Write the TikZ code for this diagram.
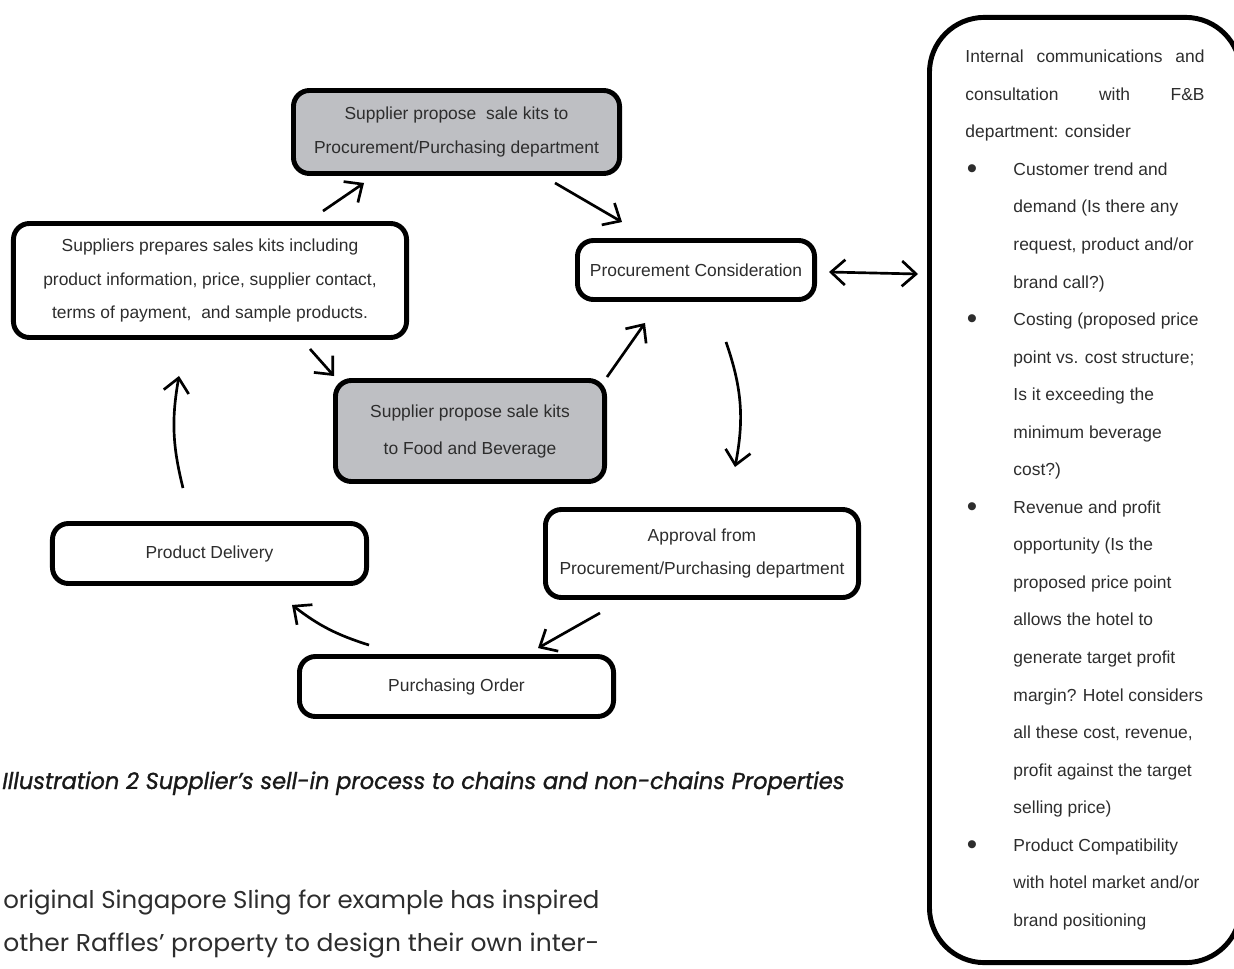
\documentclass[tikz,border=0pt]{standalone}
\usepackage{fontspec}
\setmainfont{Liberation Sans}
\newfontfamily\capfont{Poppins}
\newfontfamily\capbold[FakeBold=1.2]{Poppins}
\usepackage{graphicx}
\usetikzlibrary{arrows.meta}
\definecolor{kitgray}{RGB}{190,191,195}
\definecolor{inkgray}{RGB}{45,45,45}
% bullet line for the side panel
\newcommand{\noteitem}[1]{\par\noindent\hangindent=1.2cm\hangafter=1\makebox[1.2cm][l]{\hspace{1pt}\raisebox{-2.2pt}{\fontsize{21}{21}\selectfont\textbullet}}#1}

\begin{document}
\begin{tikzpicture}[x=0.025cm, y=-0.025cm]
\tikzstyle{box} = [rectangle, draw, line width=3.5pt, rounded corners=0.4cm, text=inkgray, align=center, inner sep=0pt, font=\fontsize{12.4}{23.8}\selectfont]
\tikzstyle{kitbox} = [box, fill=kitgray]
\tikzstyle{notebox} = [rectangle, draw, line width=3.5pt, rounded corners=1.375cm, text=inkgray, inner sep=0pt, minimum width=7.775cm, minimum height=23.625cm, text width=5.975cm, align=justify, font=\fontsize{12.4}{26.7}\selectfont]
\tikzstyle{arrow} = [line width=1.9pt, -{Straight Barb[length=10pt,width=18pt]}]
\tikzstyle{twoway} = [line width=1.9pt, {Straight Barb[length=10pt,width=18pt]}-{Straight Barb[length=10pt,width=18pt]}]

\useasboundingbox (0,0) rectangle (1234,968);

\node [kitbox, minimum width=8.15cm, minimum height=2.075cm] (propkit) at (456.5,132) {Supplier propose~ sale kits to\\Procurement/Purchasing department};
\node [box, minimum width=9.825cm, minimum height=2.85cm] (salekit) at (210,280.5) {Suppliers prepares sales kits including\\product information, price, supplier contact,\\terms of payment,~ and sample products.};
\node [box, minimum width=5.925cm, minimum height=1.475cm] (consider) at (696,270) {Procurement Consideration};
\node [kitbox, minimum width=6.725cm, minimum height=2.525cm, font=\fontsize{12.4}{26.3}\selectfont] (fbkit) at (470,431) {Supplier propose sale kits\\to Food and Beverage};
\node [box, minimum width=7.85cm, minimum height=1.5cm] (delivery) at (209.5,553.5) {Product Delivery};
\node [box, minimum width=7.825cm, minimum height=2.2cm] (approval) at (702,553.5) {Approval from\\Procurement/Purchasing department};
\node [box, minimum width=7.85cm, minimum height=1.5cm] (order) at (456.5,686.5) {Purchasing Order};

\node [notebox] (notes) at (1085,490) {\noindent Internal communications and\linebreak consultation with F\&B\linebreak department: consider
\noteitem{Customer trend and\newline demand (Is there any\newline request, product and/or\newline brand call?)}
\noteitem{Costing (proposed price\newline point vs. cost structure;\newline Is it exceeding the\newline minimum beverage\newline cost?)}
\noteitem{Revenue and profit\newline opportunity (Is the\newline proposed price point\newline allows the hotel to\newline generate target profit\newline margin? Hotel considers\newline all these cost, revenue,\newline profit against the target\newline selling price)}
\noteitem{Product Compatibility\newline with hotel market and/or\newline brand positioning}\par};

\node [anchor=base west, inner sep=0pt, text=black!90] (caption) at (2,789) {\resizebox{21.05cm}{\height}{\capbold\itshape\fontsize{16.4}{20}\selectfont Illustration 2 Supplier’s sell-in process to chains and non-chains Properties}};
\node [anchor=base west, inner sep=0pt, text=inkgray] (body1) at (3,908) {\resizebox{14.9cm}{\height}{\capfont\fontsize{17.3}{20}\selectfont original Singapore Sling for example has inspired}};
\node [anchor=base west, inner sep=0pt, text=inkgray] (body2) at (3,951) {\resizebox{14.9cm}{\height}{\capfont\fontsize{17.3}{20}\selectfont other Raffles’ property to design their own inter-}};

\draw [arrow] ([shift={(113,-10)}]salekit.north) -- ([shift={(-92.5,7)}]propkit.south);
\draw [arrow] ([shift={(98.5,7)}]propkit.south) -- ([shift={(-74,-16)}]consider.north);
\draw [twoway] ([shift={(12,2)}]consider.east) -- ([shift={(-9,-216)}]notes.west);
\draw [arrow] ([shift={(30,40)}]consider.south) to[bend left=15] ([shift={(33,-40)}]approval.north);
\draw [arrow] ([shift={(137,-1)}]fbkit.north) -- ([shift={(-51,21)}]consider.south);
\draw [arrow] ([shift={(100,9)}]salekit.south) -- ([shift={(-136,-2)}]fbkit.north);
\draw [arrow] ([shift={(-102,13)}]approval.south) -- ([shift={(81.5,-6)}]order.north);
\draw [arrow] ([shift={(-87.5,-9)}]order.north) to[bend left=10] ([shift={(82.5,19)}]delivery.south);
\draw [arrow] ([shift={(-26.5,-33)}]delivery.north) to[bend left=12] ([shift={(-31,36)}]salekit.south);
\end{tikzpicture}
\end{document}
